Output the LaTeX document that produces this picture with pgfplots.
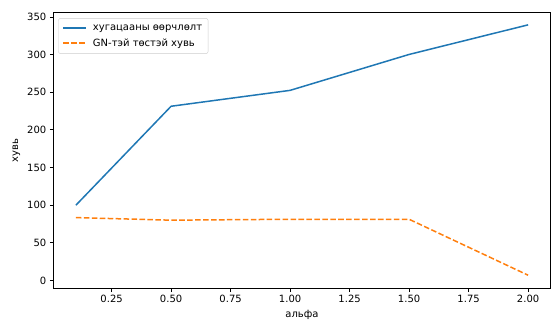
\documentclass[border=0pt]{standalone}
\usepackage{fontspec}
\setmainfont{DejaVu Sans}
\usepackage{pgfplots}
\pgfplotsset{compat=1.18}
\definecolor{mplblue}{HTML}{1F77B4}
\definecolor{mplorange}{HTML}{FF7F0E}
\begin{document}
\fontsize{10bp}{12bp}\selectfont
\begin{tikzpicture}[x=1bp,y=1bp]
\useasboundingbox (0,0) rectangle (552,320);
\begin{axis}[
  at={(53.3bp,31.5bp)}, anchor=south west,
  scale only axis, width=497.4bp, height=275.8bp,
  xmin=0.005, xmax=2.095, ymin=-10.65, ymax=355.65,
  xtick={0.25,0.5,0.75,1.0,1.25,1.5,1.75,2.0},
  ytick={0,50,100,150,200,250,300,350},
  scaled ticks=false,
  xtick pos=bottom, ytick pos=left,
  tick align=outside, major tick length=3.5bp,
  tick style={black, line width=0.8bp},
  axis line style={line width=0.8bp},
  /pgf/number format/assume math mode=true,
  xticklabel style={/pgf/number format/fixed, /pgf/number format/fixed zerofill, /pgf/number format/precision=2},
  tick label style={font=\fontsize{10bp}{12bp}\selectfont},
  label style={font=\fontsize{10bp}{12bp}\selectfont},
  xlabel={альфа}, ylabel={хувь},
  legend cell align=left,
  legend style={at={(axis description cs:0.01,0.98)}, anchor=north west,
    draw=black!20, rounded corners=2bp, fill=white, fill opacity=0.8, text opacity=1,
    font=\fontsize{10bp}{12bp}\selectfont, inner xsep=4bp, inner ysep=4bp,
    row sep=3bp, column sep=4bp},
  legend image code/.code={\draw[#1] (0bp,0bp) -- (23bp,0bp);},
]
\addplot[mplblue, line width=1.5bp] coordinates {(0.1,100) (0.5,231.4) (1.0,252.5) (1.5,300.2) (2.0,339.5)};
\addlegendentry{хугацааны өөрчлөлт}
\addplot[mplorange, line width=1.5bp, dash pattern=on 5.55bp off 2.4bp] coordinates {(0.1,83.5) (0.5,80.1) (1.0,81.3) (1.5,81.3) (2.0,7)};
\addlegendentry{GN-тэй төстэй хувь}
\end{axis}
\end{tikzpicture}
\end{document}
